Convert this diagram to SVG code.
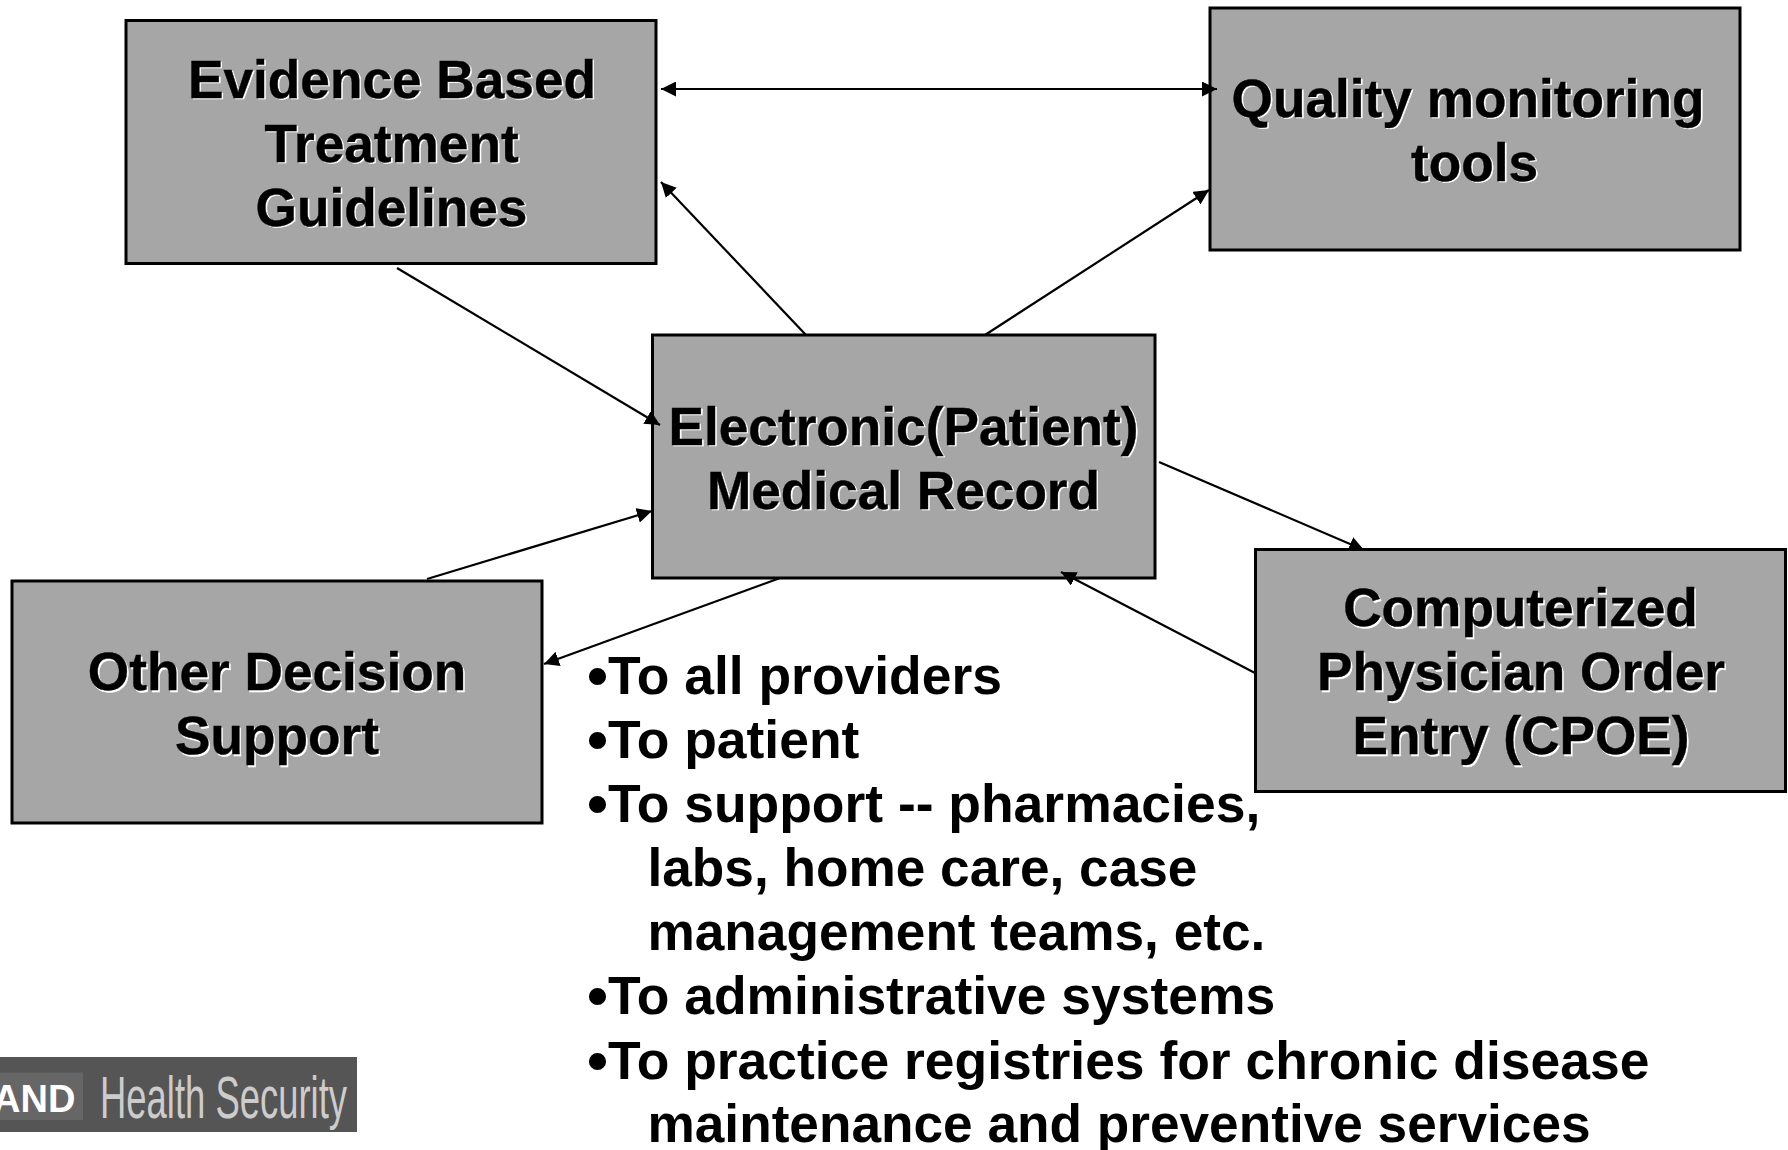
<svg xmlns="http://www.w3.org/2000/svg" width="1788" height="1150" viewBox="0 0 1788 1150">
<style>
.box{fill:#a6a6a6;stroke:#000;stroke-width:3}
.t{font-family:"Liberation Sans",Arial,sans-serif;font-weight:700;font-size:53.2px;text-anchor:middle;fill:#000;stroke:#000;stroke-width:.4}
.s{fill:#fff;stroke:#fff}
.b{font-family:"Liberation Sans",Arial,sans-serif;font-weight:700;font-size:53.2px;fill:#000}
.d{font-size:60px}
.e{font-size:53.45px}
.c{stroke:#000;stroke-width:2.2;fill:none}
</style>
<defs>
<marker id="a" viewBox="0 0 10 10" refX="10" refY="5" markerWidth="15" markerHeight="15" markerUnits="userSpaceOnUse" orient="auto-start-reverse"><path d="M0 0L10 5L0 10Z" fill="#000"/></marker>
</defs>
<rect width="1788" height="1150" fill="#fff"/>
<g id="node-guidelines">
<rect class="box" x="126" y="20.5" width="530" height="243"/>
<text class="t s" x="393.5" y="99">Evidence Based</text><text class="t" x="392" y="97.5">Evidence Based</text>
<text class="t s" x="393" y="163">Treatment</text><text class="t" x="391.5" y="161.5">Treatment</text>
<text class="t s" x="393" y="227">Guidelines</text><text class="t" x="391.5" y="225.5">Guidelines</text>
</g>
<g id="node-quality">
<rect class="box" x="1210" y="8" width="530" height="242"/>
<text class="t s" x="1469.5" y="118">Quality monitoring</text><text class="t" x="1468" y="116.5">Quality monitoring</text>
<text class="t s" x="1476" y="182">tools</text><text class="t" x="1474.5" y="180.5">tools</text>
</g>
<g id="node-emr">
<rect class="box" x="652.5" y="335" width="502.5" height="243"/>
<text class="t s" x="905" y="446">Electronic(Patient)</text><text class="t" x="903.5" y="444.5">Electronic(Patient)</text>
<text class="t s" x="905" y="510">Medical Record</text><text class="t" x="903.5" y="508.5">Medical Record</text>
</g>
<g id="node-other">
<rect class="box" x="12" y="581" width="530" height="242"/>
<text class="t s" x="278.5" y="691.5">Other Decision</text><text class="t" x="277" y="690">Other Decision</text>
<text class="t s" x="278.5" y="755.5">Support</text><text class="t" x="277" y="754">Support</text>
</g>
<g id="node-cpoe">
<rect class="box" x="1255.5" y="549.5" width="530" height="242"/>
<text class="t s" x="1522" y="627.5">Computerized</text><text class="t" x="1520.5" y="626">Computerized</text>
<text class="t s" x="1522.5" y="691.5">Physician Order</text><text class="t" x="1521" y="690">Physician Order</text>
<text class="t s" x="1522.5" y="755.5">Entry (CPOE)</text><text class="t" x="1521" y="754">Entry (CPOE)</text>
</g>
<g id="connectors">
<line class="c" x1="661" y1="89" x2="1217" y2="89" marker-start="url(#a)" marker-end="url(#a)"/>
<line class="c" x1="806" y1="335" x2="661" y2="182" marker-end="url(#a)"/>
<line class="c" x1="985" y1="335" x2="1209" y2="190" marker-end="url(#a)"/>
<line class="c" x1="397" y1="268" x2="660" y2="425" marker-end="url(#a)"/>
<line class="c" x1="427" y1="579" x2="652" y2="511" marker-end="url(#a)"/>
<line class="c" x1="1159" y1="462" x2="1364" y2="550" marker-end="url(#a)"/>
<line class="c" x1="1255" y1="673" x2="1061" y2="572" marker-end="url(#a)"/>
<line class="c" x1="780" y1="578" x2="544" y2="664" marker-end="url(#a)"/>
</g>
<g id="bullets">
<text class="b" x="587" y="693.5"><tspan class="d" dy="2">•</tspan><tspan class="e" dy="-2">To all providers</tspan></text>
<text class="b" x="587" y="757.5"><tspan class="d" dy="2">•</tspan><tspan class="e" dy="-2">To patient</tspan></text>
<text class="b" x="587" y="821.5"><tspan class="d" dy="2">•</tspan><tspan class="e" dy="-2">To support -- pharmacies,</tspan></text>
<text class="b" x="647.5" y="886">labs, home care, case</text>
<text class="b" x="647.5" y="950">management teams, etc.</text>
<text class="b" x="587" y="1014"><tspan class="d" dy="2">•</tspan><tspan class="e" dy="-2">To administrative systems</tspan></text>
<text class="b" x="587" y="1078.5"><tspan class="d" dy="2">•</tspan><tspan class="e" dy="-2">To practice registries for chronic disease</tspan></text>
<text class="b" x="647.5" y="1142">maintenance and preventive services</text>
</g>
<g id="logo">
<rect x="0" y="1057" width="357" height="75" fill="#555"/>
<rect x="0" y="1072.5" width="83" height="47.5" fill="#666"/>
<text x="-7" y="1111.7" font-family="'Liberation Sans',Arial,sans-serif" font-weight="700" font-size="38" fill="#fff">AND</text>
<text x="100" y="1117.5" font-family="'Liberation Sans',Arial,sans-serif" font-size="60" fill="#ccc" textLength="247" lengthAdjust="spacingAndGlyphs">Health Security</text>
</g>
</svg>
